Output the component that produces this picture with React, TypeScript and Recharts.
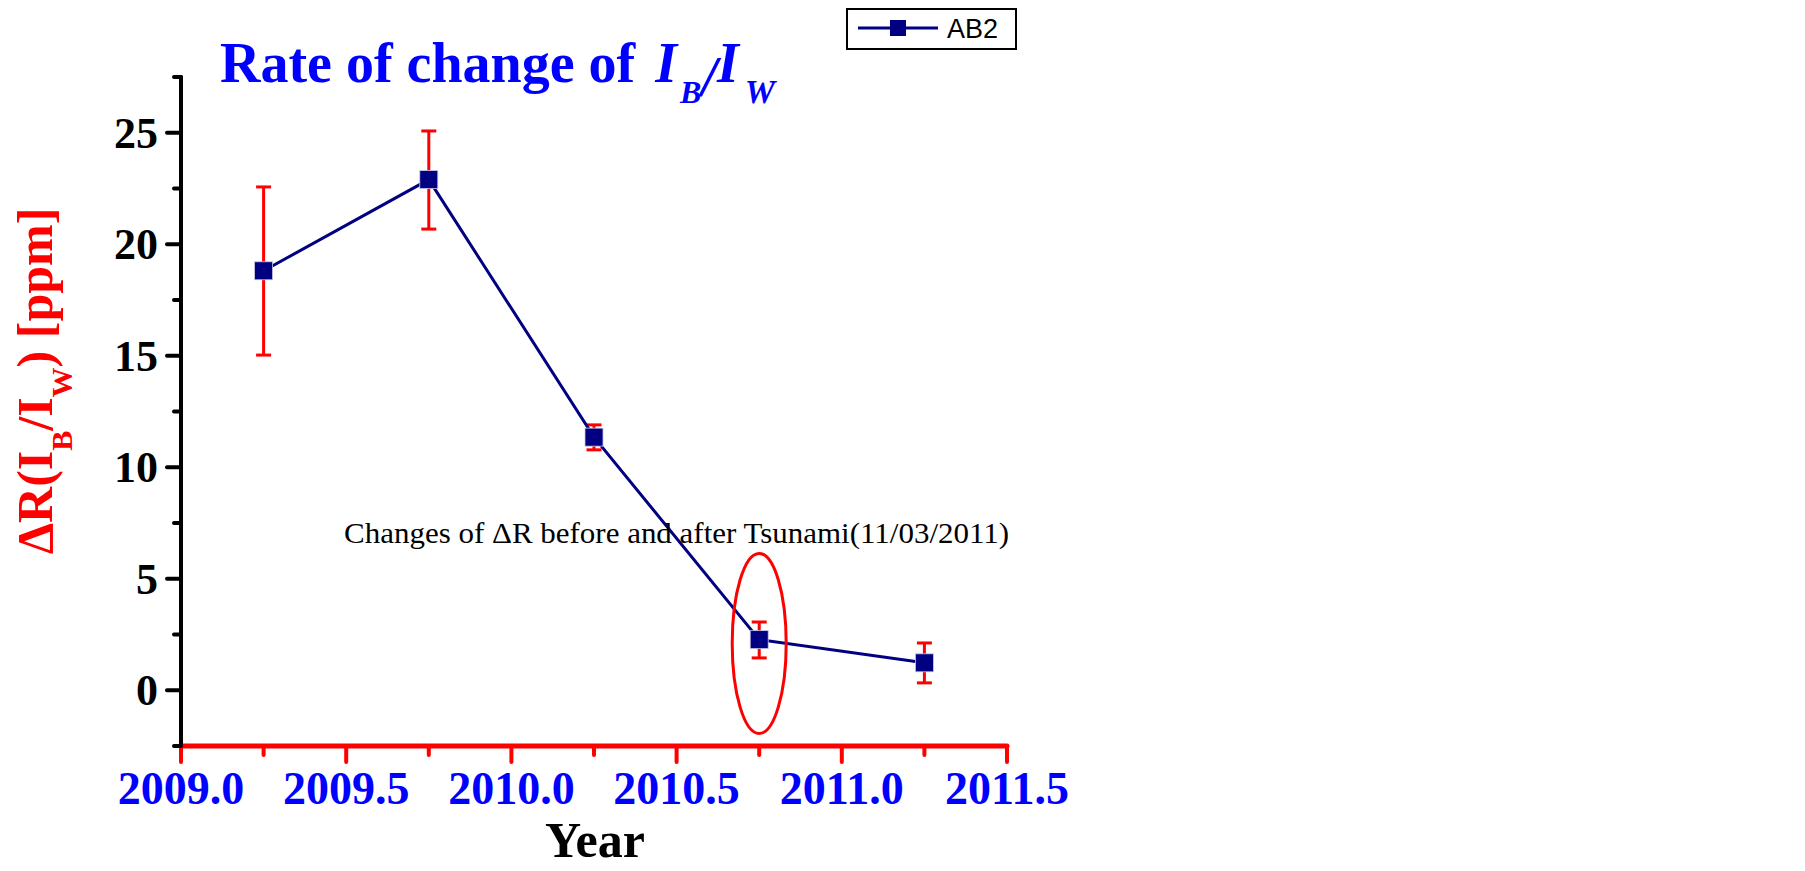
import {
  LineChart,
  Line,
  XAxis,
  YAxis,
  ErrorBar,
  Legend,
  ReferenceDot,
  Customized
} from 'recharts';

// AB2 measurements: year, ΔR(IB/IW) in ppm, and the ends of each error bar
const years = [2009.25, 2009.75, 2010.25, 2010.75, 2011.25];
const deltaR = [18.81, 22.9, 11.35, 2.27, 1.23];
const errLow = [15.03, 20.68, 10.78, 1.45, 0.33];
const errHigh = [22.57, 25.08, 11.9, 3.06, 2.12];

const xTicks = [2009, 2009.25, 2009.5, 2009.75, 2010, 2010.25, 2010.5, 2010.75, 2011, 2011.25, 2011.5];
const yTicks = [-2.5, 0, 2.5, 5, 7.5, 10, 12.5, 15, 17.5, 20, 22.5, 25, 27.5];

const seriesName = 'AB2';
const noteText = 'Changes of \u0394R before and after Tsunami(11/03/2011)';
const tsunamiPoint = { year: 2010.75, value: 2.1 };
const notePoint = { year: 2010.5, value: 6.6 };

const data = years.map((year, i) => ({
  year,
  value: deltaR[i],
  err: [deltaR[i] - errLow[i], errHigh[i] - deltaR[i]]
}));

const SERIF = '"Liberation Serif", "Times New Roman", serif';
const NAVY = '#000080';

const XTick = ({ x, y, payload }: any) => {
  const v = payload.value as number;
  const major = Math.abs(v * 2 - Math.round(v * 2)) < 1e-6;
  return (
    <g>
      <line x1={x} x2={x} y1={y} y2={y + (major ? 16 : 9)} stroke="#ff0000" strokeWidth={4} strokeLinecap="round" />
      {major && (
        <text x={x} y={y + 58} textAnchor="middle" fontFamily={SERIF} fontWeight="bold" fontSize={46} fill="#0000ff">
          {v.toFixed(1)}
        </text>
      )}
    </g>
  );
};

const YTick = ({ x, y, payload }: any) => {
  const v = payload.value as number;
  const major = Math.abs(v / 5 - Math.round(v / 5)) < 1e-6;
  return (
    <g>
      <line x1={x - (major ? 14 : 7)} x2={x} y1={y} y2={y} stroke="#000" strokeWidth={4} strokeLinecap="round" />
      {major && (
        <text x={x - 23} y={y + 15} textAnchor="end" fontFamily={SERIF} fontWeight="bold" fontSize={44} fill="#000">
          {v}
        </text>
      )}
    </g>
  );
};

const SquareDot = ({ cx, cy }: any) => {
  if (cx == null || cy == null) return null;
  return <rect x={cx - 9} y={cy - 9} width={18} height={18} fill={NAVY} stroke="#c8c8e8" strokeWidth={0.8} />;
};

const Titles = () => (
  <g>
    <text x={212} y={74} fontFamily={SERIF} fontWeight="bold" fontSize={56} fill="#0000ff">
      Rate of change of{' '}
      <tspan fontStyle="italic" dx={6}>I</tspan>
      <tspan fontStyle="italic" fontSize={32} dx={3} dy={21}>B</tspan>
      <tspan fontStyle="italic" dy={-7}>/</tspan>
      <tspan fontStyle="italic" dy={-14}>I</tspan>
      <tspan fontStyle="italic" fontSize={34} dx={6} dy={21}>W</tspan>
    </text>
    <text
      x={44}
      y={373}
      transform="rotate(-90, 44, 373)"
      textAnchor="middle"
      fontFamily={SERIF}
      fontWeight="bold"
      fontSize={50}
      fill="#ff0000"
    >
      {'\u0394R(I'}
      <tspan fontSize={30} dy={20}>B</tspan>
      <tspan dy={-20}>/I</tspan>
      <tspan fontSize={30} dy={20}>W</tspan>
      <tspan dy={-20}>) [ppm]</tspan>
    </text>
    <text x={587} y={849} textAnchor="middle" fontFamily={SERIF} fontWeight="bold" fontSize={50} fill="#000">
      Year
    </text>
  </g>
);

const LegendBox = () => (
  <svg width={171} height={42} style={{ display: 'block' }}>
    <rect x={1} y={1} width={169} height={40} fill="#fff" stroke="#000" strokeWidth={2} />
    <line x1={12} x2={92} y1={20} y2={20} stroke={NAVY} strokeWidth={3} />
    <rect x={44} y={12} width={16} height={16} fill={NAVY} />
    <text x={101} y={30} fontFamily='"Liberation Sans", Arial, sans-serif' fontSize={27} fill="#000">
      {seriesName}
    </text>
  </svg>
);

export default function App() {
  return (
    <LineChart width={1789} height={862} data={data} margin={{ top: 69, right: 790, bottom: 24, left: 53 }}>
      <XAxis
        dataKey="year"
        type="number"
        domain={[2009, 2011.5]}
        ticks={xTicks}
        interval={0}
        height={100}
        tickSize={0}
        tickMargin={0}
        tickLine={false}
        tick={<XTick />}
        axisLine={{ stroke: '#ff0000', strokeWidth: 5, strokeLinecap: 'round' }}
      />
      <YAxis
        type="number"
        domain={[-2.5, 27.5]}
        ticks={yTicks}
        interval={0}
        width={120}
        tickSize={0}
        tickMargin={0}
        tickLine={false}
        tick={<YTick />}
        axisLine={{ stroke: '#000', strokeWidth: 4, strokeLinecap: 'round' }}
      />
      <Legend
        layout="vertical"
        align="center"
        verticalAlign="middle"
        content={<LegendBox />}
        wrapperStyle={{ left: 838, top: 0, width: 171, height: 42 }}
      />
      <Line
        dataKey="value"
        name={seriesName}
        stroke={NAVY}
        strokeWidth={3}
        dot={<SquareDot />}
        activeDot={false}
        isAnimationActive={false}
      >
        <ErrorBar dataKey="err" direction="y" width={7.5} strokeWidth={3} stroke="#ff0000" isAnimationActive={false} />
      </Line>
      <ReferenceDot
        x={tsunamiPoint.year}
        y={tsunamiPoint.value}
        r={0}
        shape={({ cx, cy }: any) => (
          <ellipse cx={cx} cy={cy} rx={27} ry={90} fill="none" stroke="#ff0000" strokeWidth={3} />
        )}
      />
      <ReferenceDot
        x={notePoint.year}
        y={notePoint.value}
        r={0}
        shape={({ cx, cy }: any) => (
          <text
            x={cx}
            y={cy}
            textAnchor="middle"
            fontFamily={SERIF}
            fontSize={30}
            fill="#000"
            textLength={665}
            lengthAdjust="spacingAndGlyphs"
          >
            {noteText}
          </text>
        )}
      />
      <Customized component={Titles} />
    </LineChart>
  );
}
